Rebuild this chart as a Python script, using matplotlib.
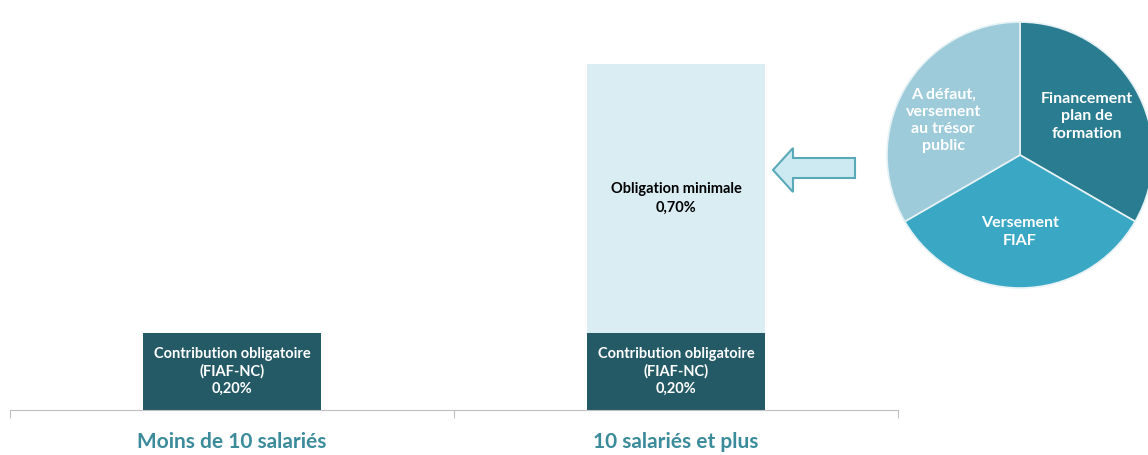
import matplotlib.pyplot as plt
from matplotlib.patches import Polygon

# chart data
categories = ["Moins de 10 salariés", "10 salariés et plus"]
contribution = [0.20, 0.20]   # % contribution obligatoire (FIAF-NC)
obligation = [0.0, 0.70]      # % obligation minimale, stacked above
contrib_labels = ["Contribution obligatoire\n(FIAF-NC)\n0,20%", "Contribution obligatoire\n(FIAF-NC)\n0,20%"]
oblig_labels = ["", "Obligation minimale\n0,70%"]
pie_labels = ["Financement\nplan de\nformation", "Versement\nFIAF", "A défaut,\nversement\nau trésor\npublic"]
pie_shares = [1, 1, 1]

plt.rcParams['font.family'] = ['Lato', 'DejaVu Sans']

W, H = 1148, 455
fig = plt.figure(figsize=(W / 100, H / 100), dpi=100)

# bar chart
ax = fig.add_axes([10 / W, 45 / H, 888 / W, 410 / H])
x = list(range(len(categories)))
ax.bar(x, contribution, width=0.4, color="#245a66")
ax.bar(x, obligation, width=0.4, bottom=contribution, color="#daedf3")
for i in x:
    ax.text(i, contribution[i] / 2, contrib_labels[i], ha="center", va="center",
            color="white", fontsize=10.5, fontweight="bold", linespacing=1.25)
    if obligation[i] > 0:
        ax.text(i, contribution[i] + obligation[i] / 2, oblig_labels[i], ha="center", va="center",
                color="black", fontsize=10.5, fontweight="bold", linespacing=1.45)

ax.set_xlim(-0.5, 1.5)
ax.set_ylim(0, 1.065)
ax.set_xticks([-0.5, 0.5, 1.5])
ax.set_xticklabels([])
ax.set_xticks(x, minor=True)
ax.set_xticklabels(categories, minor=True, fontsize=15, fontweight="bold", color="#3b8b9b")
ax.tick_params(axis="x", which="major", length=6, color="#bfbfbf", direction="out")
ax.tick_params(axis="x", which="minor", length=0, pad=16)
ax.set_yticks([])
for s in ["top", "left", "right"]:
    ax.spines[s].set_visible(False)
ax.spines["bottom"].set_color("#bfbfbf")

# block arrow pointing to the pie
arrow_px = [(773, 170), (793, 148), (793, 158), (855, 158), (855, 178), (793, 178), (793, 192)]
arrow = Polygon([(px / W, 1 - py / H) for px, py in arrow_px], closed=True,
                transform=fig.transFigure, facecolor="#cdeaf2", edgecolor="#5aa9b8", linewidth=1.5)
fig.patches.append(arrow)

# pie
pax = fig.add_axes([887 / W, 1 - 288 / H, 266 / W, 266 / H])
wedges, texts = pax.pie(pie_shares, labels=pie_labels, startangle=90, counterclock=False,
                        colors=["#2a7d91", "#3aa7c4", "#9dcbd9"], labeldistance=0.58,
                        wedgeprops=dict(edgecolor="#e6f2f5", linewidth=1.2))
for t in texts:
    t.set_ha("center")
    t.set_va("center")
    t.set_color("white")
    t.set_fontsize(11.5)
    t.set_fontweight("bold")
    t.set_linespacing(1.3)
# the left label sits a little further out in the original
tx, ty = texts[2].get_position()
texts[2].set_position((tx * 1.15, ty * 0.9))
pax.set_xlim(-1, 1)
pax.set_ylim(-1, 1)

fig.savefig("out.png", dpi=100)
